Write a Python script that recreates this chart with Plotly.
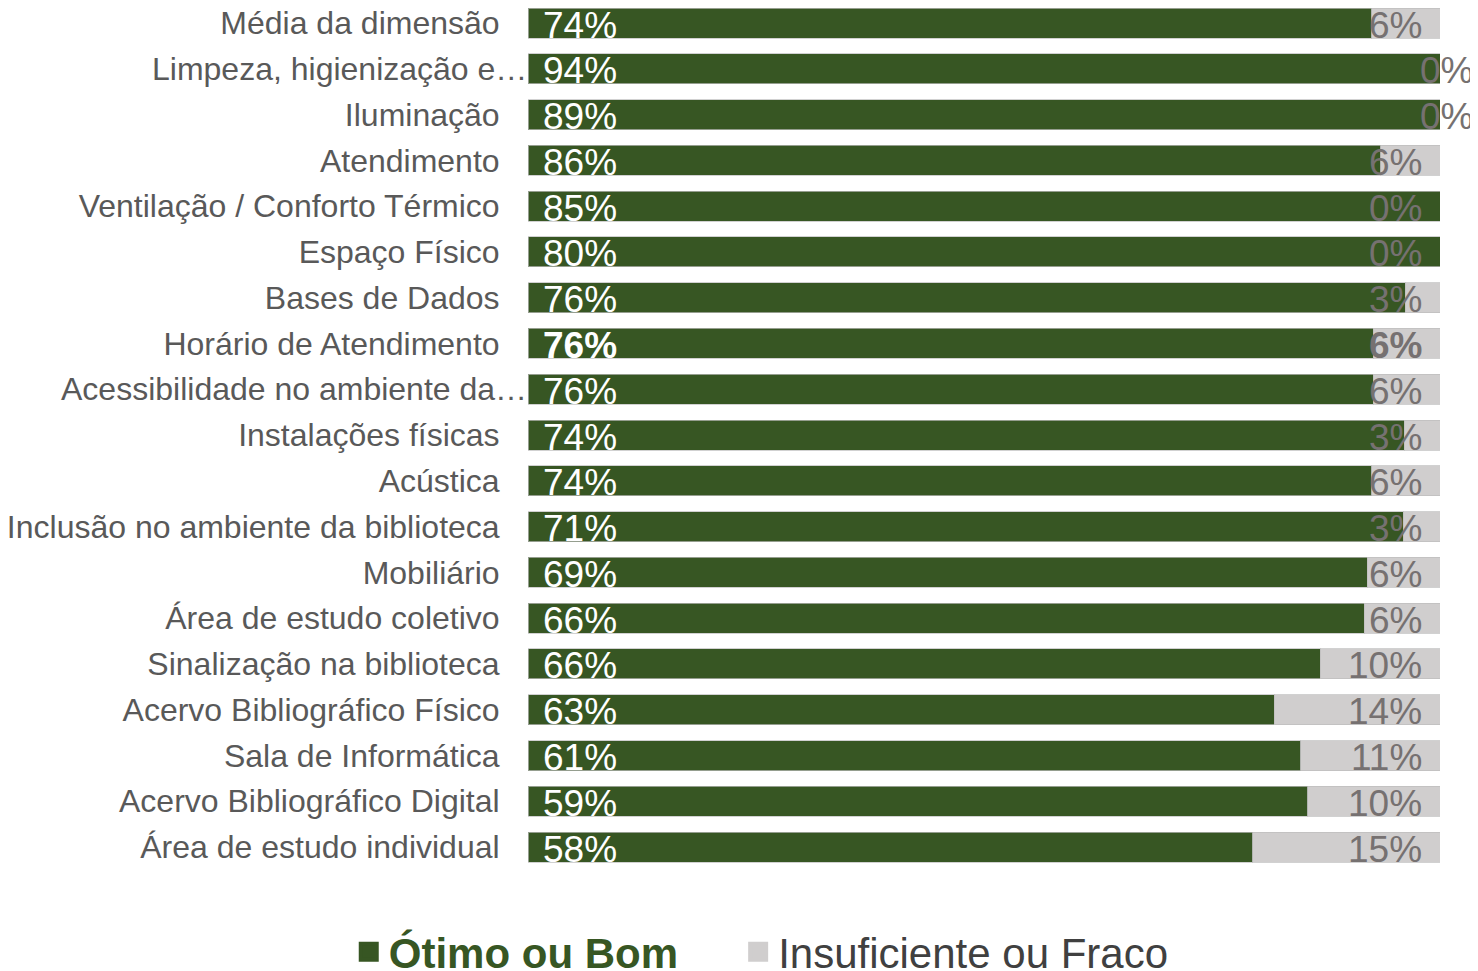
import plotly.graph_objects as go

categories = [
    "Média da dimensão", "Limpeza, higienização e…", "Iluminação", "Atendimento",
    "Ventilação / Conforto Térmico", "Espaço Físico", "Bases de Dados",
    "Horário de Atendimento", "Acessibilidade no ambiente da…", "Instalações físicas",
    "Acústica", "Inclusão no ambiente da biblioteca", "Mobiliário",
    "Área de estudo coletivo", "Sinalização na biblioteca", "Acervo Bibliográfico Físico",
    "Sala de Informática", "Acervo Bibliográfico Digital", "Área de estudo individual",
]
otimo_bom = [74, 94, 89, 86, 85, 80, 76, 76, 76, 74, 74, 71, 69, 66, 66, 63, 61, 59, 58]
insuf_fraco = [6, 0, 0, 6, 0, 0, 3, 6, 6, 3, 6, 3, 6, 6, 10, 14, 11, 10, 15]
bold_rows = ["Horário de Atendimento"]
truncated = ["Limpeza, higienização e…", "Acessibilidade no ambiente da…"]
overflow_zero = ["Limpeza, higienização e…", "Iluminação"]

GREEN = "#375623"
GRAY = "#D0CECE"
FONT = "Liberation Sans, Arial, sans-serif"

fig = go.Figure()
fig.add_trace(go.Bar(
    y=categories, x=otimo_bom, orientation="h", name="Ótimo ou Bom",
    marker=dict(color=GREEN, line=dict(color="rgba(190,190,190,0.7)", width=1)),
    hoverinfo="skip", showlegend=False,
))
fig.add_trace(go.Bar(
    y=categories, x=insuf_fraco, orientation="h", name="Insuficiente ou Fraco",
    marker=dict(color=GRAY, line=dict(color="rgba(190,190,190,0.7)", width=1)),
    hoverinfo="skip", showlegend=False,
))
# legend entries with larger square symbols
fig.add_trace(go.Scatter(
    x=[None], y=[None], mode="markers",
    name="<span style='color:#375623'><b>Ótimo ou Bom</b></span>&nbsp;&nbsp;&nbsp;&nbsp;&#8201;",
    marker=dict(symbol="square", size=16, color=GREEN, line=dict(color=GREEN, width=4)),
))
fig.add_trace(go.Scatter(
    x=[None], y=[None], mode="markers",
    name="<span style='color:#404040'>Insuficiente ou Fraco</span>",
    marker=dict(symbol="square", size=16, color=GRAY, line=dict(color=GRAY, width=4)),
))

annotations = []
for cat, g, r in zip(categories, otimo_bom, insuf_fraco):
    b = cat in bold_rows
    gt = f"<b>{g}%</b>" if b else f"{g}%"
    rt = f"<b>{r}%</b>" if b else f"{r}%"
    annotations.append(dict(x=0, y=cat, xref="x", yref="y", text=gt, showarrow=False,
                            xanchor="left", yanchor="middle", xshift=13, yshift=-2,
                            font=dict(family=FONT, size=37, color="white")))
    if cat in overflow_zero:
        annotations.append(dict(x=100, y=cat, xref="x", yref="y", text=rt, showarrow=False,
                                xanchor="left", yanchor="middle", xshift=-22, yshift=-2,
                                font=dict(family=FONT, size=37, color="#767171")))
    else:
        annotations.append(dict(x=100, y=cat, xref="x", yref="y", text=rt, showarrow=False,
                                xanchor="right", yanchor="middle", xshift=-16, yshift=-2,
                                font=dict(family=FONT, size=37, color="#767171")))
    if cat in truncated:
        annotations.append(dict(x=0, y=cat, xref="x", yref="y", text=cat, showarrow=False,
                                xanchor="right", yanchor="middle", xshift=1,
                                font=dict(family=FONT, size=32, color="#595959")))

ticktext = ["" if c in truncated else c for c in categories]

fig.update_layout(
    barmode="stack", barnorm="percent", bargap=0.345,
    width=1470, height=963,
    margin=dict(l=520, r=38, t=0, b=101, autoexpand=False),
    paper_bgcolor="white", plot_bgcolor="white",
    font=dict(family=FONT, color="#595959"),
    xaxis=dict(range=[0, 100], visible=False, fixedrange=True),
    yaxis=dict(categoryorder="array", categoryarray=categories,
               range=[18.501, -0.328], automargin=False,
               tickmode="array", tickvals=categories, ticktext=ticktext,
               tickfont=dict(family=FONT, size=32, color="#595959"),
               ticks="outside", ticklen=21, tickcolor="rgba(0,0,0,0)",
               showline=False, showgrid=False, zeroline=False, fixedrange=True),
    legend=dict(orientation="h", traceorder="normal",
                xref="container", yref="container",
                x=0.2318, xanchor="left", y=0.0197, yanchor="middle",
                font=dict(family=FONT, size=42),
                bgcolor="rgba(0,0,0,0)"),
    annotations=annotations,
    showlegend=True,
)

fig.write_html("out.html")
